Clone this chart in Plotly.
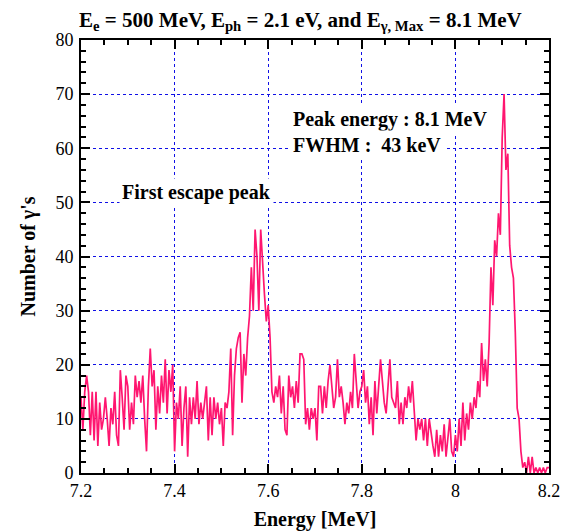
import plotly.graph_objects as go

# ---- data ----
E_START = 7.2
BIN_WIDTH = 0.004

counts_72_74 = [14, 8, 15, 18, 15, 7, 15, 6, 15, 5,
                13, 8, 10, 14, 10, 5, 12, 9, 15, 7,
                5, 19, 14, 8, 18, 16, 8, 13, 9, 18,
                14, 17, 13, 18, 10, 4, 16, 23, 16, 19,
                8, 16, 11, 18, 13, 21, 11, 19, 15, 20]
counts_74_76 = [4, 13, 10, 16, 5, 12, 16, 3, 14, 9,
                14, 10, 17, 9, 13, 10, 13, 16, 6, 14,
                7, 14, 10, 13, 9, 12, 5, 13, 12, 15,
                23, 7, 18, 23, 25, 26, 13, 22, 18, 25,
                29, 38, 30, 45, 40, 30, 45, 38, 33, 28]
counts_76_78 = [31, 25, 15, 13, 16, 14, 18, 11, 16, 8,
                7, 18, 14, 16, 12, 17, 13, 22, 22, 21,
                9, 12, 8, 12, 10, 12, 6, 16, 16, 11,
                16, 12, 17, 20, 16, 12, 14, 21, 14, 16,
                13, 9, 13, 11, 15, 12, 22, 16, 12, 15]
counts_78_80 = [16, 19, 13, 16, 9, 14, 7, 17, 11, 16,
                21, 17, 13, 11, 16, 21, 14, 13, 12, 17,
                9, 13, 9, 14, 12, 16, 13, 17, 11, 6,
                10, 8, 10, 6, 10, 5, 10, 7, 5, 3,
                8, 3, 7, 4, 9, 3, 7, 10, 4, 3]
counts_80_82 = [7, 4, 10, 5, 13, 6, 11, 8, 13, 10,
                14, 12, 17, 14, 24, 17, 21, 16, 24, 38,
                31, 43, 40, 48, 44, 62, 70, 56, 59, 42,
                38, 36, 26, 12, 10, 4, 1, 2, 0, 3,
                0, 3, 0, 1, 0, 1, 0, 1, 0, 1, 1]

x_tick_vals = [7.2, 7.4, 7.6, 7.8, 8.0, 8.2]
x_tick_text = ["7.2", "7.4", "7.6", "7.8", "8", "8.2"]
y_tick_vals = [0, 10, 20, 30, 40, 50, 60, 70, 80]

counts = counts_72_74 + counts_74_76 + counts_76_78 + counts_78_80 + counts_80_82
energy = [round(E_START + BIN_WIDTH * i, 4) for i in range(len(counts))]

FONT = "Liberation Serif"
LINE_COLOR = "#ff1670"
GRID_COLOR = "#1010e6"

fig = go.Figure()
fig.add_trace(go.Scatter(x=energy, y=counts, mode="lines",
                         line=dict(color=LINE_COLOR, width=1.7),
                         showlegend=False, hoverinfo="skip"))

axis_common = dict(
    showline=True, linecolor="black", linewidth=2,
    ticks="inside", tickcolor="black", tickwidth=1.5,
    mirror="allticks", automargin=False,
    showgrid=True, gridcolor=GRID_COLOR, gridwidth=1, griddash="dot",
    zeroline=False,
    tickfont=dict(family=FONT, size=18, color="black"),
)

fig.update_xaxes(
    range=[7.2, 8.2], tickvals=x_tick_vals, ticktext=x_tick_text, ticklen=9,
    minor=dict(ticks="inside", dtick=0.05, tick0=7.2, ticklen=5, tickwidth=1.5,
               tickcolor="black", showgrid=False),
    title=dict(text="<b>Energy [MeV]</b>", font=dict(family=FONT, size=20, color="black"),
               standoff=12),
    **axis_common)
fig.update_yaxes(
    range=[0, 80], tickvals=y_tick_vals, ticklen=9, ticklabelstandoff=2,
    minor=dict(ticks="inside", dtick=2, tick0=0, ticklen=5, tickwidth=1.5,
               tickcolor="black", showgrid=False),
    title=dict(text="<b>Number of γ's</b>", font=dict(family=FONT, size=20, color="black"),
               standoff=14),
    **axis_common)

ann_font = dict(family=FONT, size=20, color="black")
fig.add_annotation(x=7.645, y=65.4, xref="x", yref="y", text="<b>Peak energy : 8.1 MeV</b>",
                   showarrow=False, xanchor="left", yanchor="middle", font=ann_font,
                   bgcolor="white", borderpad=3)
fig.add_annotation(x=7.645, y=60.6, xref="x", yref="y", text="<b>FWHM :  43 keV</b>",
                   showarrow=False, xanchor="left", yanchor="middle", font=ann_font,
                   bgcolor="white", borderpad=3)
fig.add_annotation(x=7.282, y=51.8, xref="x", yref="y", text="<b>First escape peak</b>",
                   showarrow=False, xanchor="left", yanchor="middle", font=ann_font,
                   bgcolor="white", borderpad=2)

fig.update_layout(
    width=570, height=532,
    margin=dict(l=81, r=21, t=40, b=59),
    paper_bgcolor="white", plot_bgcolor="white",
    font=dict(family=FONT, color="black"),
    title=dict(text="<b>E<sub>e</sub> = 500 MeV, E<sub>ph</sub> = 2.1 eV, and E<sub>γ, Max</sub> = 8.1 MeV</b>",
               x=0.527, xanchor="center", y=0.963, yanchor="middle", xref="container", yref="container",
               font=dict(family=FONT, size=21, color="black")),
)

fig.write_html("out.html")
